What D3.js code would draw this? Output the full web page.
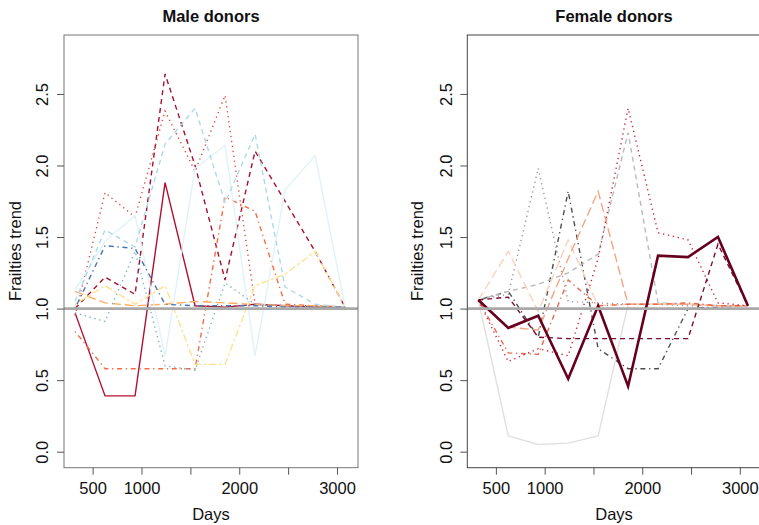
<!DOCTYPE html>
<html>
<head>
<meta charset="utf-8">
<script src="https://cdn.jsdelivr.net/npm/d3@7"></script>
<style>
body{margin:0;background:#fff;}
svg{display:block;font-family:"Liberation Sans",Arial,Helvetica,sans-serif;}
</style>
</head>
<body>
<div id="chart"></div>
<script>

const days = [320, 627, 934, 1241, 1548, 1855, 2162, 2469, 2776, 3083];

// male donors, one array per trend line
const male1 = [0.97, 0.39, 0.39, 1.88, 1.02, 1.01, 1.03, 1.02, 1.01, 1.01];
const male2 = [1.00, 1.22, 1.10, 2.64, 2.00, 1.20, 2.10, 1.75, 1.40, 1.01];
const male3 = [0.95, 1.81, 1.64, 2.38, 1.96, 2.49, 1.03, 1.02, 1.02, 1.01];
const male4 = [0.84, 0.58, 0.58, 0.58, 0.58, 1.78, 1.68, 1.03, 1.02, 1.01];
const male5 = [1.12, 1.04, 1.02, 1.03, 1.05, 1.04, 1.03, 1.02, 1.02, 1.01];
const male6 = [1.03, 1.16, 1.03, 1.16, 0.61, 0.61, 1.16, 1.24, 1.40, 1.01];
const male7 = [1.13, 1.47, 1.65, 0.67, 1.98, 2.14, 0.67, 1.83, 2.07, 1.01];
const male8 = [1.05, 1.55, 1.43, 2.15, 2.40, 1.74, 2.22, 1.15, 1.03, 1.01];
const male9 = [0.97, 0.91, 1.40, 0.60, 0.57, 1.18, 1.03, 1.02, 1.01, 1.01];
const male10 = [1.00, 1.44, 1.42, 1.03, 1.02, 1.02, 1.02, 1.01, 1.01, 1.01];

// female donors
const female1 = [1.06, 0.865, 0.95, 0.51, 1.02, 0.457, 1.37, 1.36, 1.50, 1.02];
const female2 = [1.06, 1.08, 0.80, 0.79, 0.79, 0.79, 0.79, 0.79, 1.45, 1.02];
const female3 = [1.06, 0.63, 0.72, 0.67, 1.35, 2.40, 1.53, 1.48, 1.04, 1.02];
const female4 = [1.06, 0.69, 0.68, 1.20, 1.02, 1.03, 1.03, 1.04, 1.02, 1.02];
const female5 = [1.06, 0.87, 0.85, 1.35, 1.82, 1.03, 1.03, 1.03, 1.02, 1.02];
const female6 = [1.06, 1.40, 0.98, 1.48, 1.02, 1.03, 1.03, 1.03, 1.02, 1.02];
const female7 = [1.06, 0.11, 0.05, 0.06, 0.11, 1.03, 1.03, 1.03, 1.02, 1.02];
const female8 = [1.06, 1.12, 1.17, 1.25, 1.38, 2.23, 1.04, 1.03, 1.02, 1.02];
const female9 = [1.06, 1.10, 1.98, 1.05, 1.04, 1.03, 1.03, 1.02, 1.02, 1.02];
const female10 = [1.06, 1.12, 0.80, 1.82, 0.72, 0.58, 0.58, 1.00, 1.01, 1.02];

const xTicks = [500, 1000, 1500, 2000, 2500, 3000];
const xTickLabels = ["500", "1000", "", "2000", "", "3000"];
const yTicks = [0, 0.5, 1, 1.5, 2, 2.5];
const yTickLabels = ["0.0", "0.5", "1.0", "1.5", "2.0", "2.5"];

// styles
const dash = {
	solid: null,
	dashed: "5,4",
	dotted: "1.3,3.7",
	dotdash: "1.3,3.7,5,3.7",
	longdash: "9,4",
	twodash: "2.6,2.6,7.5,2.6"
};
const lty = ["solid","dashed","dotted","dotdash","longdash","twodash","solid","dashed","dotted","dotdash"];

const maleColors = ["#B0102F","#A50F32","#E34A3C","#F46D43","#FDAE61","#FEE090","#E0F3F8","#ABD9E9","#74ADD1","#4575B4"];
const femaleColors = ["#67001F","#7A0B30","#D01F3C","#E66A50","#F4A582","#FBD3BD","#E0E0E0","#BABABA","#999999","#4D4D4D"];
const femaleLty = ["solid","dashed","dotted","dotdash","longdash","longdash","solid","dashed","dotted","dotdash"];

const W = 759, H = 525;

const svg = d3.select("#chart").append("svg")
	.attr("width", W)
	.attr("height", H);

svg.append("rect").attr("width", W).attr("height", H).attr("fill", "#fff");

function drawPanel(opts){

	const x = d3.scaleLinear().domain([207, 3215]).range([opts.left, opts.right]);
	const y = d3.scaleLinear().domain([-0.112, 2.912]).range([467.7, 35]);

	const g = svg.append("g");

	const line = d3.line()
		.x((d,i) => x(days[i]))
		.y(d => y(d));

	const clipId = "clip" + opts.id;
	g.append("clipPath").attr("id", clipId)
		.append("rect")
		.attr("x", opts.left).attr("y", 35)
		.attr("width", opts.right - opts.left).attr("height", 467.7 - 35);

	const lines = g.append("g").attr("clip-path", `url(#${clipId})`);

	lines.selectAll(".trend")
		.data(opts.series)
		.enter()
		.append("path")
		.attr("class","trend")
		.attr("d", d => line(d))
		.attr("fill","none")
		.attr("stroke", (d,i) => opts.colors[i])
		.attr("stroke-width", (d,i) => opts.widths ? opts.widths[i] : 1.4)
		.attr("stroke-dasharray", (d,i) => dash[opts.lty[i]]);

	// reference line at 1
	lines.append("line")
		.attr("x1", opts.left).attr("x2", opts.right)
		.attr("y1", y(1)).attr("y2", y(1))
		.attr("stroke", "#A9A9A9")
		.attr("stroke-width", 2.6);

	// box
	g.append("rect")
		.attr("x", opts.left).attr("y", 35)
		.attr("width", opts.right - opts.left).attr("height", 467.7 - 35)
		.attr("fill","none")
		.attr("stroke", opts.box)
		.attr("stroke-width", 1);

	// x axis
	const xAxis = g.append("g")
		.attr("transform", "translate(0,467.7)")
		.call(d3.axisBottom(x).tickValues(xTicks).tickSize(7).tickSizeOuter(0)
			.tickFormat((d,i) => xTickLabels[i]));
	xAxis.select(".domain").remove();
	xAxis.selectAll(".tick line").attr("stroke", "#555");
	xAxis.selectAll(".tick text")
		.attr("y", 26.3).attr("dy", 0)
		.attr("fill", "#111")
		.style("font-size", "16.5px");

	// y axis
	const yAxis = g.append("g")
		.attr("transform", `translate(${opts.left},0)`)
		.call(d3.axisLeft(y).tickValues(yTicks).tickSize(7).tickSizeOuter(0)
			.tickFormat((d,i) => yTickLabels[i]));
	yAxis.select(".domain").remove();
	yAxis.selectAll(".tick line").attr("stroke", "#555");
	yAxis.selectAll(".tick text")
		.attr("x", null).attr("dy", null)
		.attr("text-anchor", "middle")
		.attr("transform", `translate(${opts.yLabelX - opts.left},0) rotate(-90)`)
		.attr("fill", "#111")
		.style("font-size", "16.5px");

	svg.append("text")
		.attr("x", (opts.left + opts.right) / 2)
		.attr("y", 520)
		.attr("text-anchor","middle")
		.style("font-size","16.5px")
		.attr("fill","#111")
		.text("Days");

	svg.append("text")
		.attr("transform", `translate(${opts.titleX},251) rotate(-90)`)
		.attr("text-anchor","middle")
		.style("font-size","16.5px")
		.attr("fill","#111")
		.text("Frailties trend");

	svg.append("text")
		.attr("x", (opts.left + opts.right) / 2)
		.attr("y", 22)
		.attr("text-anchor","middle")
		.style("font-size","16.5px")
		.style("font-weight","bold")
		.attr("fill","#111")
		.text(opts.title);
}

drawPanel({
	id: "m",
	left: 64, right: 358,
	yLabelX: 48.3, titleX: 20.5,
	box: "#777",
	title: "Male donors",
	series: [male1, male2, male3, male4, male5, male6, male7, male8, male9, male10],
	colors: maleColors,
	lty: lty
});

// thick dark line drawn last
drawPanel({
	id: "f",
	left: 467.3, right: 760.8,
	yLabelX: 451.7, titleX: 423.3,
	box: "#444",
	title: "Female donors",
	series: [female10, female9, female8, female7, female6, female5, female4, female3, female2, female1],
	colors: femaleColors.slice().reverse(),
	lty: femaleLty.slice().reverse(),
	widths: [1.4,1.4,1.4,1.4,1.4,1.4,1.4,1.4,1.4,2.6]
});

</script>
</body>
</html>
